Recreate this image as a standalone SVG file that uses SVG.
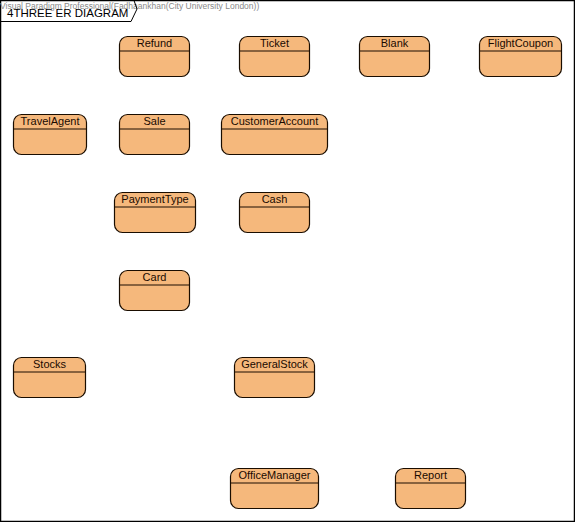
<svg xmlns="http://www.w3.org/2000/svg" width="575" height="522" viewBox="0 0 575 522">
<style>
.box{fill:#f5b87c;stroke:#1a0d00;stroke-width:1.2}
.div{stroke:#1a0d00;stroke-width:1}
.lbl{font-family:"Liberation Sans",Arial,sans-serif;font-size:11px;fill:#1a0a00;text-anchor:middle}
.wm{font-family:"Liberation Sans",Arial,sans-serif;font-size:8.5px;fill:#8a8a8a}
.ttl{font-family:"Liberation Sans",Arial,sans-serif;font-size:11.5px;fill:#000}
</style>
<rect x="0" y="0" width="575" height="522" fill="#fff"/>
<rect x="0.5" y="0.5" width="574" height="521" fill="none" stroke="#000" stroke-width="1.5"/>
<g id="frame-title">
<text class="wm" x="0" y="9">Visual Paradigm Professional(Fadhaankhan(City University London))</text>
<path d="M0.5,0.5 L134,0.5 L137,9 L131,21.5 L0.5,21.5" fill="none" stroke="#000" stroke-width="1"/>
<text class="ttl" x="7" y="17">4THREE ER DIAGRAM</text>
</g>
<g id="connectors"></g>
<g id="Refund"><rect class="box" x="119.5" y="36.5" width="70" height="40" rx="8"/><line class="div" x1="119.5" y1="51" x2="189.5" y2="51"/><text class="lbl" x="154.5" y="47">Refund</text></g>
<g id="Ticket"><rect class="box" x="239.5" y="36.5" width="70" height="40" rx="8"/><line class="div" x1="239.5" y1="51" x2="309.5" y2="51"/><text class="lbl" x="274.5" y="47">Ticket</text></g>
<g id="Blank"><rect class="box" x="359.5" y="36.5" width="70" height="40" rx="8"/><line class="div" x1="359.5" y1="51" x2="429.5" y2="51"/><text class="lbl" x="394.5" y="47">Blank</text></g>
<g id="FlightCoupon"><rect class="box" x="479.5" y="36.5" width="82" height="40" rx="8"/><line class="div" x1="479.5" y1="51" x2="561.5" y2="51"/><text class="lbl" x="520.5" y="47">FlightCoupon</text></g>
<g id="TravelAgent"><rect class="box" x="13.5" y="114.5" width="73" height="40" rx="8"/><line class="div" x1="13.5" y1="129" x2="86.5" y2="129"/><text class="lbl" x="50" y="125">TravelAgent</text></g>
<g id="Sale"><rect class="box" x="119.5" y="114.5" width="70" height="40" rx="8"/><line class="div" x1="119.5" y1="129" x2="189.5" y2="129"/><text class="lbl" x="154.5" y="125">Sale</text></g>
<g id="CustomerAccount"><rect class="box" x="221.5" y="114.5" width="106" height="40" rx="8"/><line class="div" x1="221.5" y1="129" x2="327.5" y2="129"/><text class="lbl" x="274.5" y="125">CustomerAccount</text></g>
<g id="PaymentType"><rect class="box" x="114.5" y="192.5" width="81" height="40" rx="8"/><line class="div" x1="114.5" y1="207" x2="195.5" y2="207"/><text class="lbl" x="155" y="203">PaymentType</text></g>
<g id="Cash"><rect class="box" x="239.5" y="192.5" width="70" height="40" rx="8"/><line class="div" x1="239.5" y1="207" x2="309.5" y2="207"/><text class="lbl" x="274.5" y="203">Cash</text></g>
<g id="Card"><rect class="box" x="119.5" y="270.5" width="70" height="40" rx="8"/><line class="div" x1="119.5" y1="285" x2="189.5" y2="285"/><text class="lbl" x="154.5" y="281">Card</text></g>
<g id="Stocks"><rect class="box" x="13.5" y="357.5" width="72" height="40" rx="8"/><line class="div" x1="13.5" y1="372" x2="85.5" y2="372"/><text class="lbl" x="49.5" y="368">Stocks</text></g>
<g id="GeneralStock"><rect class="box" x="234.5" y="357.5" width="80" height="40" rx="8"/><line class="div" x1="234.5" y1="372" x2="314.5" y2="372"/><text class="lbl" x="274.5" y="368">GeneralStock</text></g>
<g id="OfficeManager"><rect class="box" x="230.5" y="468.5" width="88" height="40" rx="8"/><line class="div" x1="230.5" y1="483" x2="318.5" y2="483"/><text class="lbl" x="274.5" y="479">OfficeManager</text></g>
<g id="Report"><rect class="box" x="395.5" y="468.5" width="70" height="40" rx="8"/><line class="div" x1="395.5" y1="483" x2="465.5" y2="483"/><text class="lbl" x="430.5" y="479">Report</text></g>
</svg>
